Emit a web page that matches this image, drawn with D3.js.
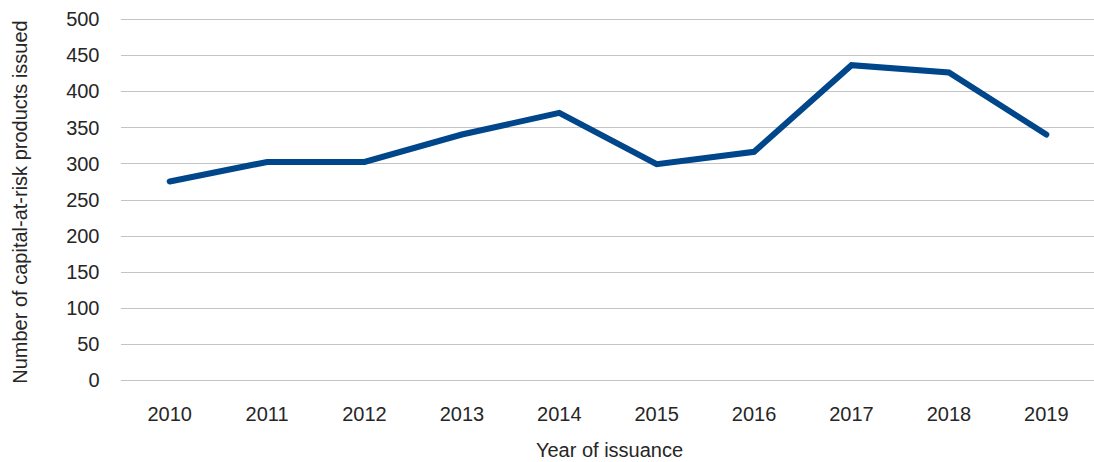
<!DOCTYPE html>
<html>
<head>
<meta charset="utf-8">
<script src="https://cdn.jsdelivr.net/npm/d3@7"></script>
<style>
  html, body { margin: 0; padding: 0; background: #fff; }
  svg text { font-family: "Liberation Sans", Arial, sans-serif; font-weight: 400; fill: #262626; }
</style>
</head>
<body>
<svg id="chart" width="1094" height="462"></svg>
<script>
// Capital-at-risk products issued per year
const years = ["2010", "2011", "2012", "2013", "2014", "2015", "2016", "2017", "2018", "2019"];
const issued = [275, 302, 302, 340, 370, 299, 316, 436, 426, 340];
const yTicks = [0, 50, 100, 150, 200, 250, 300, 350, 400, 450, 500];

const svg = d3.select("#chart");
const W = 1094;
const plot = { left: 121, right: 1095, top: 19, bottom: 380 };

const x = d3.scalePoint()
  .domain(years)
  .range([plot.left, plot.right])
  .padding(0.5);

const y = d3.scaleLinear()
  .domain([0, 500])
  .range([plot.bottom, plot.top]);

// horizontal gridlines
svg.append("g")
  .selectAll("line")
  .data(yTicks)
  .join("line")
  .attr("x1", plot.left)
  .attr("x2", W)
  .attr("y1", d => Math.round(y(d)) + 0.5)
  .attr("y2", d => Math.round(y(d)) + 0.5)
  .attr("stroke", "#c4c4c4")
  .attr("stroke-width", 1.2);

// y-axis tick labels
svg.append("g")
  .selectAll("text")
  .data(yTicks)
  .join("text")
  .attr("x", 99.5)
  .attr("y", d => y(d))
  .attr("dy", "0.36em")
  .attr("text-anchor", "end")
  .attr("font-size", 20)
  .text(d => d);

// x-axis tick labels
svg.append("g")
  .selectAll("text")
  .data(years)
  .join("text")
  .attr("x", d => x(d))
  .attr("y", 421)
  .attr("text-anchor", "middle")
  .attr("font-size", 20)
  .text(d => d);

// axis titles
svg.append("text")
  .attr("x", 609.5)
  .attr("y", 457)
  .attr("text-anchor", "middle")
  .attr("font-size", 20)
  .text("Year of issuance");

svg.append("text")
  .attr("transform", "translate(26.5, 202) rotate(-90)")
  .attr("text-anchor", "middle")
  .attr("font-size", 20)
  .text("Number of capital-at-risk products issued");

// series line
const line = d3.line()
  .x((d, i) => x(years[i]))
  .y(d => y(d));

svg.append("path")
  .datum(issued)
  .attr("d", line)
  .attr("fill", "none")
  .attr("stroke", "#00468b")
  .attr("stroke-width", 6)
  .attr("stroke-linejoin", "miter")
  .attr("stroke-linecap", "round");
</script>
</body>
</html>
